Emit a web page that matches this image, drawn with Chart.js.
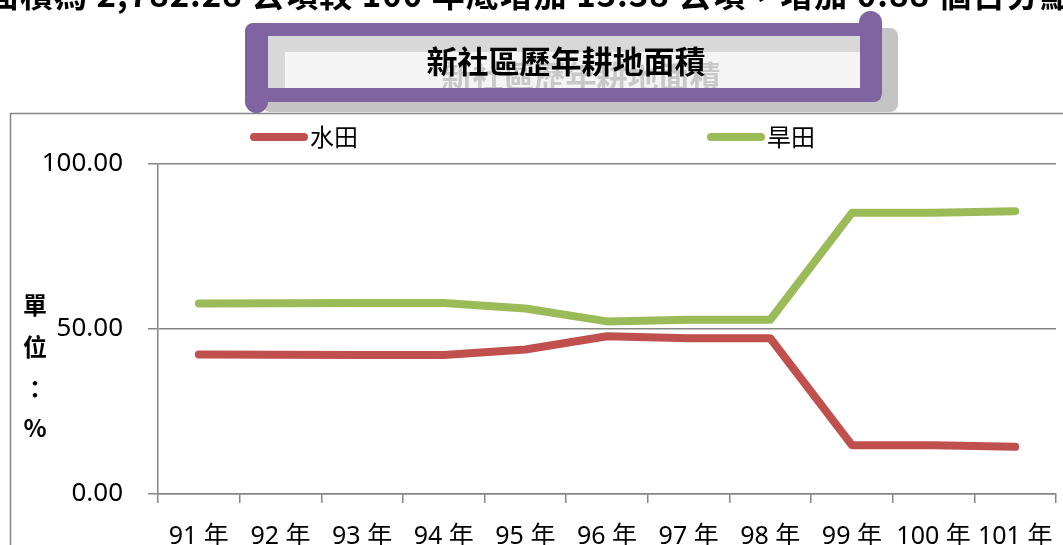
<!DOCTYPE html>
<html>
<head>
<meta charset="utf-8">
<script src="https://cdn.jsdelivr.net/npm/chart.js@4"></script>
<style>
  html, body { margin: 0; padding: 0; background: #fff; }
  #wrap { width: 1063px; height: 545px; }
</style>
</head>
<body>
<div id="wrap"><canvas id="c" width="1063" height="545"></canvas></div>
<script>
// data (percent of farmland)
const categories = ['91 年', '92 年', '93 年', '94 年', '95 年', '96 年', '97 年', '98 年', '99 年', '100 年', '101 年'];
const paddy = [42.3, 42.2, 42.1, 42.1, 43.8, 47.8, 47.2, 47.2, 14.8, 14.8, 14.3];
const dryland = [57.7, 57.8, 57.9, 57.9, 56.2, 52.3, 52.8, 52.8, 85.2, 85.2, 85.7];
const seriesNames = ['水田', '旱田'];
const yTicks = [0, 50, 100];
const chartTitle = '新社區歷年耕地面積';
const yTitle = ['單', '位', '：', '%'];
const headline = '面積為 2,782.28 公頃較 100 年底增加 13.38 公頃，增加 0.88 個百分點';

const FONT = '"Noto Sans", "Noto Sans CJK TC", sans-serif';
const CJK = '"Noto Sans CJK TC", "Noto Sans", sans-serif';
const GRID = '#868686';

// page decorations: headline, chart frame, title box, legend, axis title
const decor = {
  id: 'decor',
  beforeDraw(chart) {
    const ctx = chart.ctx;
    ctx.save();
    ctx.fillStyle = '#fff';
    ctx.fillRect(0, 0, chart.width, chart.height);

    // headline cut off at the top
    ctx.font = 'bold 33px ' + CJK;
    ctx.letterSpacing = '1px';
    ctx.fillStyle = '#000';
    ctx.textBaseline = 'alphabetic';
    ctx.textAlign = 'left';
    ctx.fillText(headline, -14, 7);
    ctx.letterSpacing = '0px';

    // chart frame
    ctx.strokeStyle = GRID;
    ctx.lineWidth = 1.5;
    ctx.strokeRect(10.5, 113.5, 1100, 500);

    // title shadow box
    ctx.beginPath();
    ctx.roundRect(262, 28, 636, 84, 8);
    ctx.fillStyle = '#c4c4c4';
    ctx.fill();
    ctx.fillStyle = '#efefef';
    ctx.fillRect(285, 52, 597, 46);

    // front box
    ctx.fillStyle = 'rgba(255,255,255,0.35)';
    ctx.fillRect(268, 36, 592, 52);
    ctx.font = 'bold 31px ' + CJK;
    ctx.textAlign = 'center';
    ctx.textBaseline = 'middle';
    ctx.fillStyle = '#c8c8c8';
    ctx.save();
    ctx.beginPath();
    ctx.rect(268, 36, 592, 52);
    ctx.clip();
    ctx.fillText(chartTitle, 581, 76);
    ctx.restore();
    ctx.fillStyle = '#8064A2';
    ctx.beginPath();
    ctx.roundRect(245, 23, 637, 79, 8);
    ctx.rect(268, 36, 592, 52);
    ctx.fill('evenodd');
    ctx.beginPath();
    ctx.roundRect(859, 11, 23, 30, 11.5);
    ctx.fill();
    ctx.beginPath();
    ctx.roundRect(245, 82, 23, 31, 11.5);
    ctx.fill();
    ctx.fillStyle = '#000';
    ctx.fillText(chartTitle, 566, 61);

    // legend
    const legendX = [250, 707];
    chart.data.datasets.forEach((ds, i) => {
      const x = legendX[i];
      ctx.strokeStyle = ds.borderColor;
      ctx.lineWidth = 8;
      ctx.lineCap = 'round';
      ctx.beginPath();
      ctx.moveTo(x + 4, 137);
      ctx.lineTo(x + 54, 137);
      ctx.stroke();
      ctx.font = '24px ' + CJK;
      ctx.textAlign = 'left';
      ctx.fillStyle = '#000';
      ctx.fillText(ds.label, x + 60, 137);
    });

    // vertical axis title
    ctx.font = 'bold 24px ' + CJK;
    ctx.textAlign = 'center';
    const ty = [305, 347, 389, 428];
    yTitle.forEach((ch, i) => ctx.fillText(ch, 35, ty[i]));
    ctx.restore();
  }
};

new Chart(document.getElementById('c'), {
  type: 'line',
  data: {
    labels: categories,
    datasets: [
      { label: seriesNames[0], data: paddy, borderColor: '#C0504D', backgroundColor: '#C0504D' },
      { label: seriesNames[1], data: dryland, borderColor: '#9BBB59', backgroundColor: '#9BBB59' }
    ]
  },
  options: {
    responsive: false,
    animation: false,
    layout: { padding: { left: 0, top: 164, right: 7, bottom: 0 } },
    elements: {
      line: { borderWidth: 8, tension: 0, borderCapStyle: 'round', borderJoinStyle: 'round' },
      point: { radius: 0, hoverRadius: 0 }
    },
    plugins: { legend: { display: false }, tooltip: { enabled: false } },
    scales: {
      x: {
        offset: true,
        grid: { offset: true, drawOnChartArea: false, color: GRID, lineWidth: 1.5, tickLength: 9 },
        border: { color: GRID, width: 1.5 },
        ticks: { color: '#000', font: { family: FONT, size: 25 }, padding: 19, autoSkip: false, maxRotation: 0 },
        afterFit(s) { s.height = 51; s.paddingLeft = 0; s.paddingRight = 0; }
      },
      y: {
        min: 0,
        max: 100,
        afterBuildTicks(s) { s.ticks = yTicks.map(v => ({ value: v })); },
        grid: { color: GRID, lineWidth: 1.5, tickLength: 10 },
        border: { color: GRID, width: 1.5 },
        ticks: { color: '#000', font: { family: FONT, size: 26 }, padding: 25, callback: v => Number(v).toFixed(2) },
        afterFit(s) { s.width = 158; }
      }
    }
  },
  plugins: [decor]
});
</script>
</body>
</html>
